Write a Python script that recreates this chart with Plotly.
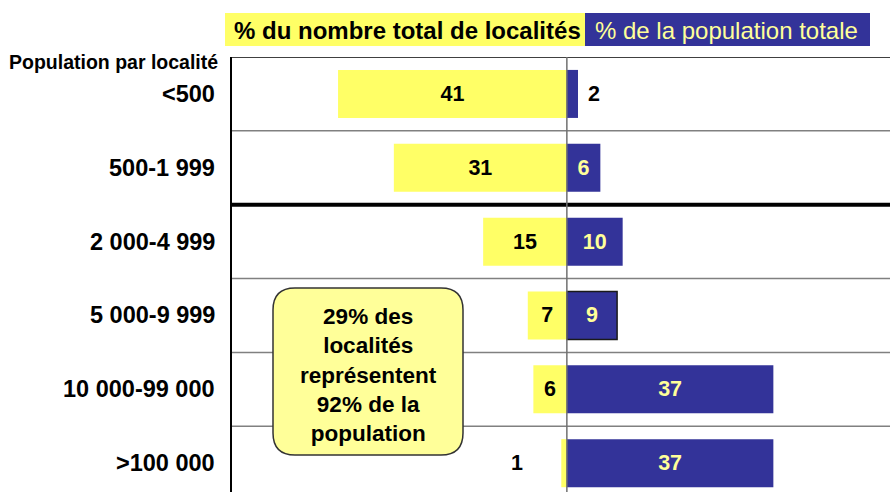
import plotly.graph_objects as go

categories = ["<500", "500-1 999", "2 000-4 999", "5 000-9 999", "10 000-99 000", ">100 000"]
pct_localites = [41, 31, 15, 7, 6, 1]
pct_population = [2, 6, 10, 9, 37, 37]
title_left = "% du nombre total de localités"
title_right = "% de la population totale"
axis_title = "Population par localité"
callout = "29% des<br>localités<br>représentent<br>92% de la<br>population"

YELLOW = "#FFFF66"
BLUE = "#333399"
LABEL_YELLOW = "#FFFF99"
FONT = "Liberation Sans, Arial, sans-serif"

W, H = 890, 492
ML, MR, MT, MB = 232, 0, 57, 0
PW, PH = W - ML - MR, H - MT - MB

def px_x(p):
    return (p - ML) / PW

def px_y(p):
    return 1 - (p - MT) / PH

ypos = list(range(len(categories)))
small = 3

left_text = [str(v) if v >= small else "" for v in pct_localites]
right_text = [str(v) if v >= small else "" for v in pct_population]

fig = go.Figure()
fig.add_trace(go.Bar(
    y=ypos, x=[-v for v in pct_localites], orientation="h", width=0.65,
    marker=dict(color=YELLOW, line=dict(width=0)),
    text=left_text, textposition="inside", insidetextanchor="middle",
    textangle=0, constraintext="none",
    textfont=dict(family=FONT, size=21.5, color="black", weight="bold"),
    hoverinfo="skip", showlegend=False,
))
fig.add_trace(go.Bar(
    y=ypos, x=pct_population, orientation="h", width=0.65,
    marker=dict(color=BLUE,
                line=dict(width=[1.5 if i == 3 else 0 for i in ypos], color="#1a1a1a")),
    text=right_text, textposition="inside", insidetextanchor="middle",
    textangle=0, constraintext="none",
    textfont=dict(family=FONT, size=21.5, color=LABEL_YELLOW, weight="bold"),
    hoverinfo="skip", showlegend=False,
))

shapes = []
for i in range(len(categories) - 1):
    b = i + 0.5
    thick = (i == 1)
    shapes.append(dict(type="line", xref="paper", x0=0, x1=1, yref="y", y0=b, y1=b,
                       line=dict(color="black" if thick else "#808080", width=4 if thick else 1.5),
                       layer="below"))
shapes.append(dict(type="line", xref="paper", x0=0, x1=1, yref="y", y0=-0.5, y1=-0.5,
                   line=dict(color="black", width=1.5), layer="above"))
shapes.append(dict(type="line", xref="x", x0=0, x1=0, yref="paper", y0=0, y1=1,
                   line=dict(color="#707070", width=1.5), layer="above"))
shapes.append(dict(type="rect", xref="paper", yref="paper",
                   x0=px_x(225), x1=px_x(585), y0=px_y(46), y1=px_y(13),
                   fillcolor=YELLOW, line=dict(width=0), layer="above"))
shapes.append(dict(type="rect", xref="paper", yref="paper",
                   x0=px_x(585), x1=px_x(870), y0=px_y(46), y1=px_y(13),
                   fillcolor=BLUE, line=dict(width=0), layer="above"))
bx0, bx1, by0, by1 = px_x(273), px_x(463), px_y(455), px_y(288)
rx, ry = 22 / PW, 22 / PH
path = (f"M {bx0+rx},{by1} L {bx1-rx},{by1} Q {bx1},{by1} {bx1},{by1-ry} "
        f"L {bx1},{by0+ry} Q {bx1},{by0} {bx1-rx},{by0} "
        f"L {bx0+rx},{by0} Q {bx0},{by0} {bx0},{by0+ry} "
        f"L {bx0},{by1-ry} Q {bx0},{by1} {bx0+rx},{by1} Z")
shapes.append(dict(type="path", xref="paper", yref="paper", path=path,
                   fillcolor=LABEL_YELLOW, line=dict(color="#333333", width=1.5), layer="above"))

annotations = []
annotations.append(dict(xref="paper", yref="paper", x=px_x(407), y=px_y(30),
                        text=title_left, showarrow=False, xanchor="center", yanchor="middle",
                        font=dict(family=FONT, size=24, color="black", weight="bold")))
annotations.append(dict(xref="paper", yref="paper", x=px_x(726), y=px_y(30),
                        text=title_right, showarrow=False, xanchor="center", yanchor="middle",
                        font=dict(family=FONT, size=24, color=LABEL_YELLOW)))
annotations.append(dict(xref="paper", yref="paper", x=px_x(220), y=px_y(62),
                        text=axis_title, showarrow=False, xanchor="right", yanchor="middle",
                        font=dict(family=FONT, size=19.5, color="black", weight="bold")))
for i, c in enumerate(categories):
    annotations.append(dict(xref="paper", yref="y", x=px_x(217), y=i,
                            text=c, showarrow=False, xanchor="right", yanchor="middle",
                            font=dict(family=FONT, size=23.5, color="black", weight="bold")))
for i, v in enumerate(pct_localites):
    if v < small:
        annotations.append(dict(xref="x", yref="y", x=-v, y=i, text=str(v), showarrow=False,
                                xanchor="right", yanchor="middle", xshift=-36,
                                font=dict(family=FONT, size=21.5, color="black", weight="bold")))
for i, v in enumerate(pct_population):
    if v < small:
        annotations.append(dict(xref="x", yref="y", x=v, y=i, text=str(v), showarrow=False,
                                xanchor="left", yanchor="middle", xshift=8,
                                font=dict(family=FONT, size=21.5, color="black", weight="bold")))
annotations.append(dict(xref="paper", yref="paper", x=(bx0 + bx1) / 2, y=(by0 + by1) / 2,
                        yshift=-4,
                        text=callout, showarrow=False, xanchor="center", yanchor="middle",
                        font=dict(family=FONT, size=22.5, color="black", weight="bold")))

fig.update_layout(
    width=W, height=H,
    margin=dict(l=ML, r=MR, t=MT, b=MB),
    paper_bgcolor="white", plot_bgcolor="white",
    barmode="overlay",
    xaxis=dict(range=[-60, 57.9], showgrid=False, zeroline=False, showticklabels=False,
               showline=False, fixedrange=True),
    yaxis=dict(range=[5.39, -0.5], showgrid=False, zeroline=False, showticklabels=False,
               showline=True, linecolor="black", linewidth=1.5, fixedrange=True),
    shapes=shapes, annotations=annotations,
)

fig.write_html("out.html", config={"displayModeBar": False},
               post_script="document.body.style.margin='0';document.body.style.overflow='hidden';")
